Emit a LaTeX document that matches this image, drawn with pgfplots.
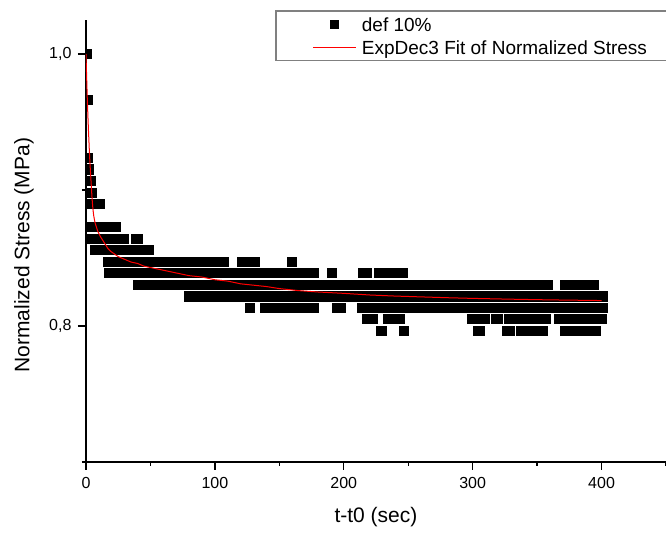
\documentclass[border=0pt]{standalone}
\usepackage{pgfplots}
\pgfplotsset{compat=1.18}
\usepackage{fontspec}
\setmainfont{Liberation Sans}
\begin{document}
\begin{tikzpicture}
\useasboundingbox (-86pt,-72pt) rectangle (580pt,462pt);
\begin{axis}[
  at={(0pt,0pt)}, anchor=south west,
  scale only axis, width=580pt, height=442pt,
  xmin=0, xmax=450, ymin=0.7, ymax=1.025,
  axis x line*=bottom, axis y line*=left,
  axis line style={line width=1.3pt, black},
  every tick/.style={line width=1.3pt, black},
  tick align=outside,
  major tick length=8pt, minor tick length=4pt,
  xtick={0,100,200,300,400}, minor xtick={50,150,250,350,450},
  ytick={0.8,1.0}, yticklabels={{0,8},{1,0}}, minor ytick={0.7,0.9},
  /pgf/number format/assume math mode=true,
  ticklabel style={font=\fontsize{16}{18}\selectfont},
  xticklabel style={yshift=-4pt},
  yticklabel style={xshift=-3pt},
  xlabel={t-t0 (sec)}, ylabel={Normalized Stress (MPa)},
  label style={font=\fontsize{21}{23}\selectfont},
  xlabel style={at={(axis description cs:0.5,-0.125)}, anchor=center},
  ylabel style={at={(axis description cs:-0.107,0.468)}, anchor=center},
  clip marker paths=true,
  legend style={name=leg, at={(axis description cs:0.369,1.0204)}, anchor=north west,
    draw=none, fill=white,
    font=\fontsize{19}{21}\selectfont,
    inner xsep=13pt, inner ysep=5.3pt, row sep=8.2pt, column sep=5.7pt,
    nodes={inner sep=0pt, text height=15.1pt, text depth=0pt}},
  legend cell align=left,
]
\addplot[only marks, mark=square*, mark size=4.6pt, mark options={fill=black, draw=black, line width=0.6pt},
  legend image code/.code={\pgfpathrectangle{\pgfpoint{0pt}{0pt}}{\pgfpoint{43pt}{0pt}}\pgfusepath{}\pgfsetfillcolor{black}\pgfpathrectangle{\pgfpoint{17pt}{-4.5pt}}{\pgfpoint{9pt}{9pt}}\pgfusepath{fill}}]
coordinates {
(0.5,1.0) (1,0.9661) (1.5,0.9237) (2.3,0.9152) (3.6,0.9067) (3.5,0.8982) (4.6,0.8982)
(2,0.8898) (5,0.8898) (8,0.8898) (10.3,0.8898)
(3,0.8728) (7,0.8728) (11,0.8728) (15,0.8728) (19,0.8728) (23,0.8728)
(4.4,0.8643) (8.5,0.8643) (12.5,0.8643) (16.5,0.8643) (20.5,0.8643) (24.5,0.8643) (28.9,0.8643) (38.8,0.8643) (39.8,0.8643)
(7,0.8558) (11,0.8558) (15,0.8558) (19,0.8558) (23,0.8558) (27,0.8558) (31,0.8558) (35,0.8558) (39,0.8558) (43,0.8558) (48.3,0.8558)
(16.8,0.8474) (21,0.8474) (26,0.8474) (31,0.8474) (36,0.8474) (41,0.8474) (46,0.8474) (51,0.8474) (56,0.8474) (61,0.8474) (66,0.8474) (71,0.8474) (76,0.8474) (81,0.8474) (86,0.8474) (91,0.8474) (96,0.8474) (101,0.8474) (106.5,0.8474) (120.8,0.8474) (125.5,0.8474) (130.6,0.8474) (159.6,0.8474)
(17.8,0.8389) (23,0.8389) (28,0.8389) (33,0.8389) (38,0.8389) (43,0.8389) (48,0.8389) (53,0.8389) (58,0.8389) (63,0.8389) (68,0.8389) (73,0.8389) (78,0.8389) (83,0.8389) (88,0.8389) (93,0.8389) (98,0.8389) (103,0.8389) (108,0.8389) (113,0.8389) (118,0.8389) (123,0.8389) (128,0.8389) (133,0.8389) (138,0.8389) (143,0.8389) (148,0.8389) (153,0.8389) (158,0.8389) (163,0.8389) (168,0.8389) (173,0.8389) (176.3,0.8389) (190.6,0.8389) (215.1,0.8389) (217.8,0.8389) (227.3,0.8389) (232,0.8389) (237,0.8389) (242,0.8389) (245.4,0.8389)
(40.1,0.8304) (45,0.8304) (50,0.8304) (55,0.8304) (60,0.8304) (65,0.8304) (70,0.8304) (75,0.8304) (80,0.8304) (85,0.8304) (90,0.8304) (95,0.8304) (100,0.8304) (105,0.8304) (110,0.8304) (115,0.8304) (120,0.8304) (125,0.8304) (130,0.8304) (135,0.8304) (140,0.8304) (145,0.8304) (150,0.8304) (155,0.8304) (160,0.8304) (165,0.8304) (170,0.8304) (175,0.8304) (180,0.8304) (185,0.8304) (190,0.8304) (195,0.8304) (200,0.8304) (205,0.8304) (210,0.8304) (215,0.8304) (220,0.8304) (225,0.8304) (230,0.8304) (235,0.8304) (240,0.8304) (245,0.8304) (250,0.8304) (255,0.8304) (260,0.8304) (265,0.8304) (270,0.8304) (275,0.8304) (280,0.8304) (285,0.8304) (290,0.8304) (295,0.8304) (300,0.8304) (305,0.8304) (310,0.8304) (315,0.8304) (320,0.8304) (325,0.8304) (330,0.8304) (335,0.8304) (340,0.8304) (345,0.8304) (350,0.8304) (355,0.8304) (358.6,0.8304) (371.6,0.8304) (376,0.8304) (381,0.8304) (386,0.8304) (390,0.8304) (393.6,0.8304)
(80.1,0.8218) (85,0.8218) (90,0.8218) (95,0.8218) (100,0.8218) (105,0.8218) (110,0.8218) (115,0.8218) (120,0.8218) (125,0.8218) (130,0.8218) (135,0.8218) (140,0.8218) (145,0.8218) (150,0.8218) (155,0.8218) (160,0.8218) (165,0.8218) (170,0.8218) (175,0.8218) (180,0.8218) (185,0.8218) (190,0.8218) (195,0.8218) (200,0.8218) (205,0.8218) (210,0.8218) (215,0.8218) (220,0.8218) (225,0.8218) (230,0.8218) (235,0.8218) (240,0.8218) (245,0.8218) (250,0.8218) (255,0.8218) (260,0.8218) (265,0.8218) (270,0.8218) (275,0.8218) (280,0.8218) (285,0.8218) (290,0.8218) (295,0.8218) (300,0.8218) (305,0.8218) (310,0.8218) (315,0.8218) (320,0.8218) (325,0.8218) (330,0.8218) (335,0.8218) (340,0.8218) (345,0.8218) (350,0.8218) (355,0.8218) (360,0.8218) (365,0.8218) (370,0.8218) (375,0.8218) (380,0.8218) (385,0.8218) (390,0.8218) (395,0.8218) (400,0.8218) (400.9,0.8218)
(127.2,0.8134) (139.1,0.8134) (144,0.8134) (149,0.8134) (154,0.8134) (159,0.8134) (164,0.8134) (169,0.8134) (174,0.8134) (176.6,0.8134) (195,0.8134) (197.3,0.8134) (214.4,0.8134) (219,0.8134) (224,0.8134) (229,0.8134) (234,0.8134) (239,0.8134) (244,0.8134) (249,0.8134) (254,0.8134) (259,0.8134) (264,0.8134) (269,0.8134) (274,0.8134) (279,0.8134) (284,0.8134) (289,0.8134) (294,0.8134) (299,0.8134) (304,0.8134) (309,0.8134) (314,0.8134) (319,0.8134) (324,0.8134) (329,0.8134) (334,0.8134) (339,0.8134) (344,0.8134) (349,0.8134) (354,0.8134) (359,0.8134) (364,0.8134) (369,0.8134) (374,0.8134) (379,0.8134) (384,0.8134) (389,0.8134) (394,0.8134) (399,0.8134) (400.5,0.8134)
(217.8,0.8050) (222.1,0.8050) (234.5,0.8050) (239,0.8050) (243.6,0.8050) (299.7,0.8050) (304,0.8050) (309,0.8050) (318,0.8050) (319.6,0.8050) (328.2,0.8050) (333,0.8050) (338,0.8050) (343,0.8050) (348,0.8050) (353,0.8050) (356.3,0.8050) (367.2,0.8050) (372,0.8050) (377,0.8050) (382,0.8050) (387,0.8050) (392,0.8050) (397,0.8050) (400.3,0.8050)
(229.1,0.7965) (246.8,0.7965) (303.9,0.7965) (305.7,0.7965) (326.8,0.7965) (328.9,0.7965) (337.5,0.7965) (342,0.7965) (346,0.7965) (350,0.7965) (354.5,0.7965) (371.6,0.7965) (376,0.7965) (381,0.7965) (386,0.7965) (391,0.7965) (395.4,0.7965)
};
\addlegendentry{def 10\%}
\addplot[red, line width=1pt, no marks,
  legend image code/.code={\pgfsetfillcolor{red}\pgfpathrectangle{\pgfpoint{0pt}{-0.6pt}}{\pgfpoint{43pt}{1.2pt}}\pgfusepath{fill}}]
coordinates {
(0,1.000) (0.5,0.983) (1,0.967) (1.5,0.954) (2,0.942) (2.5,0.931) (3,0.921) (3.5,0.913) (4,0.905) (4.5,0.897) (5,0.890) (5.5,0.885) (6,0.881) (7,0.876) (8,0.873) (9,0.870) (10,0.868) (11,0.866) (13,0.863) (15,0.860) (17,0.857) (19,0.855) (22,0.853) (25,0.851) (30,0.849) (35,0.847) (40,0.846) (45,0.844) (50,0.843) (60,0.841) (70,0.839) (80,0.837) (90,0.836) (100,0.834) (110,0.833) (120,0.831) (130,0.830) (140,0.829) (150,0.8275) (165,0.826) (180,0.825) (200,0.824) (220,0.8228) (240,0.822) (260,0.8214) (280,0.8208) (300,0.8203) (330,0.8197) (360,0.8192) (400,0.8187)
};
\addlegendentry{ExpDec3 Fit of Normalized Stress}
\end{axis}
\draw[gray, line width=1.3pt] ([xshift=-24pt]leg.north west) -- ([xshift=-24pt]leg.south west);
\draw[gray, line width=1.3pt] ([xshift=-24.65pt]leg.north west) -- ++(500pt,0pt);
\draw[gray, line width=1.3pt] ([xshift=-24.65pt]leg.south west) -- ++(500pt,0pt);
\end{tikzpicture}
\end{document}
